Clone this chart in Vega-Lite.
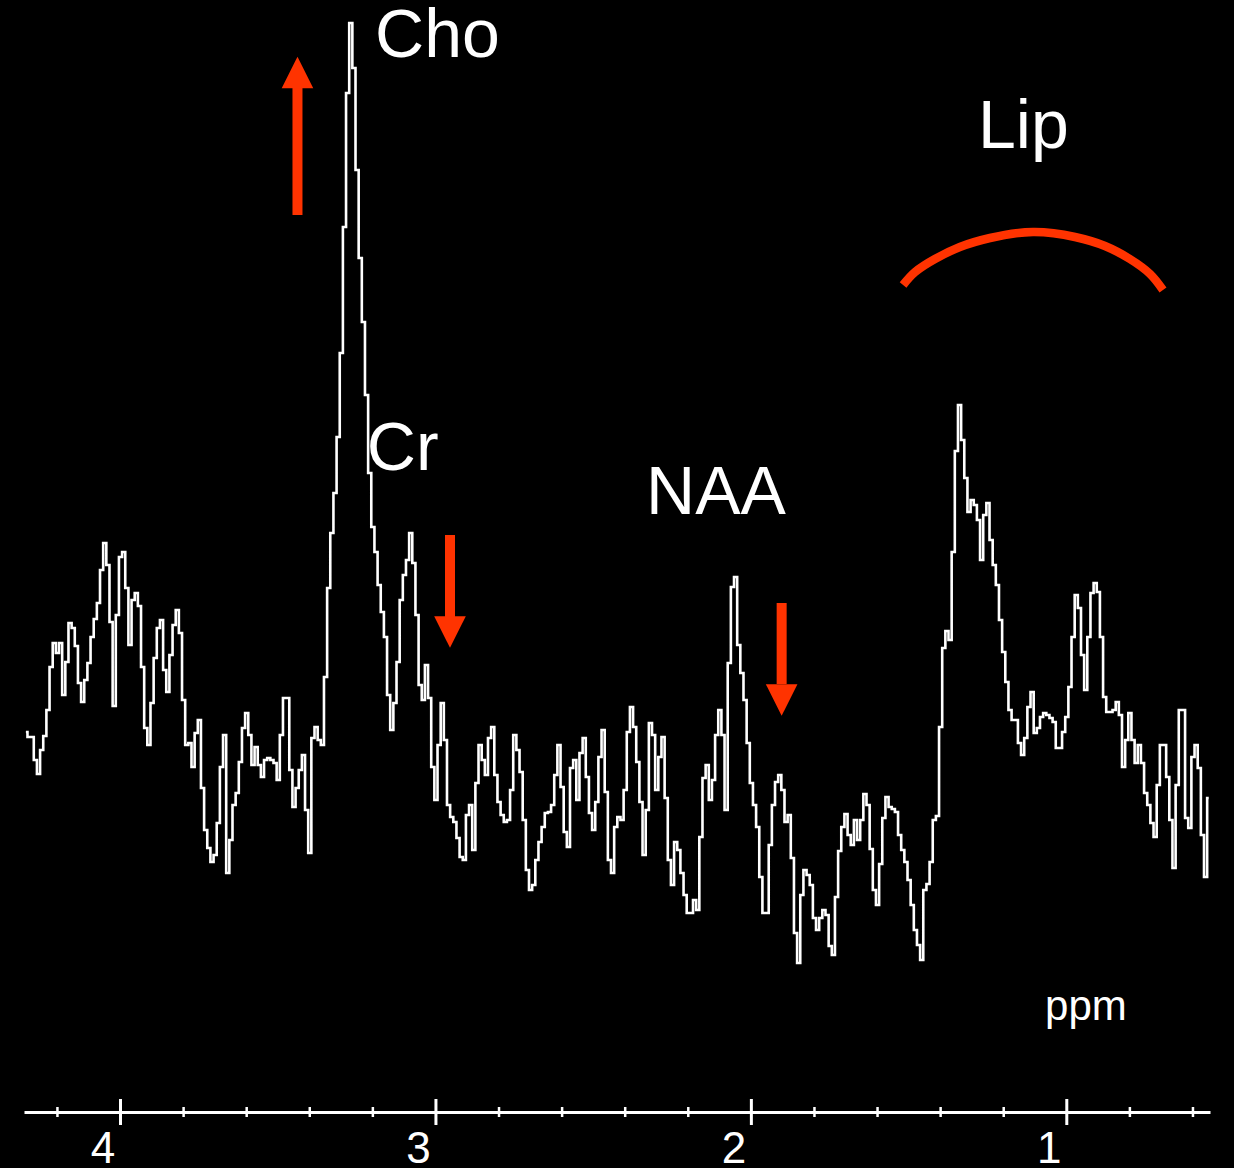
{
  "$schema": "https://vega.github.io/schema/vega-lite/v6.json",
  "width": 1186,
  "height": 1112,
  "autosize": {"type": "none"},
  "padding": {"left": 24, "right": 24, "top": 0, "bottom": 56},
  "background": "#000000",
  "config": {
    "view": {"stroke": null},
    "font": "Liberation Sans",
    "axisX": {"grid": false, "domain": true, "domainColor": "#ffffff", "domainWidth": 3,
              "ticks": false, "tickSize": 0, "format": "d",
              "labelColor": "#ffffff", "labelFont": "Liberation Sans", "labelFontSize": 44,
              "labelPadding": 15, "labelOffset": -18, "labelBaseline": "top",
              "labelFlush": false, "labelOverlap": false}
  },
  "datasets": {
    "spectrum": [{"ppm":4.3,"s":37.9},{"ppm":4.29,"s":37.4},{"ppm":4.28,"s":37.4},{"ppm":4.27,"s":35.1},{"ppm":4.26,"s":33.7},{"ppm":4.25,"s":36.1},{"ppm":4.24,"s":37.5},{"ppm":4.23,"s":40.1},{"ppm":4.22,"s":44.4},{"ppm":4.21,"s":46.8},{"ppm":4.2,"s":45.8},{"ppm":4.19,"s":46.8},{"ppm":4.18,"s":41.6},{"ppm":4.17,"s":44.9},{"ppm":4.16,"s":48.8},{"ppm":4.15,"s":48.3},{"ppm":4.14,"s":46.5},{"ppm":4.13,"s":42.8},{"ppm":4.12,"s":40.9},{"ppm":4.11,"s":43.1},{"ppm":4.1,"s":44.8},{"ppm":4.09,"s":47.4},{"ppm":4.08,"s":49.2},{"ppm":4.07,"s":50.8},{"ppm":4.06,"s":54.1},{"ppm":4.05,"s":56.8},{"ppm":4.04,"s":54.6},{"ppm":4.03,"s":48.9},{"ppm":4.02,"s":40.5},{"ppm":4.01,"s":49.6},{"ppm":4.0,"s":55.4},{"ppm":3.99,"s":55.9},{"ppm":3.98,"s":52.3},{"ppm":3.97,"s":46.6},{"ppm":3.96,"s":51.1},{"ppm":3.95,"s":51.8},{"ppm":3.94,"s":50.5},{"ppm":3.93,"s":44.4},{"ppm":3.92,"s":38.3},{"ppm":3.91,"s":36.6},{"ppm":3.9,"s":40.8},{"ppm":3.89,"s":45.3},{"ppm":3.88,"s":48.3},{"ppm":3.87,"s":49.1},{"ppm":3.86,"s":44.1},{"ppm":3.85,"s":41.9},{"ppm":3.84,"s":45.6},{"ppm":3.83,"s":48.6},{"ppm":3.82,"s":50.1},{"ppm":3.81,"s":47.8},{"ppm":3.8,"s":41.1},{"ppm":3.79,"s":36.6},{"ppm":3.78,"s":36.8},{"ppm":3.77,"s":34.4},{"ppm":3.76,"s":37.8},{"ppm":3.75,"s":39.1},{"ppm":3.74,"s":32.3},{"ppm":3.73,"s":28.1},{"ppm":3.72,"s":26.3},{"ppm":3.71,"s":24.9},{"ppm":3.7,"s":25.6},{"ppm":3.69,"s":28.8},{"ppm":3.68,"s":34.4},{"ppm":3.67,"s":37.6},{"ppm":3.66,"s":23.8},{"ppm":3.65,"s":27.1},{"ppm":3.64,"s":30.6},{"ppm":3.63,"s":31.8},{"ppm":3.62,"s":34.9},{"ppm":3.61,"s":38.3},{"ppm":3.6,"s":39.8},{"ppm":3.59,"s":37.6},{"ppm":3.58,"s":34.6},{"ppm":3.57,"s":36.4},{"ppm":3.56,"s":34.6},{"ppm":3.55,"s":33.4},{"ppm":3.54,"s":35.1},{"ppm":3.53,"s":35.3},{"ppm":3.52,"s":35.1},{"ppm":3.51,"s":34.8},{"ppm":3.5,"s":33.1},{"ppm":3.49,"s":37.6},{"ppm":3.48,"s":41.3},{"ppm":3.47,"s":41.3},{"ppm":3.46,"s":34.1},{"ppm":3.45,"s":30.4},{"ppm":3.44,"s":32.3},{"ppm":3.43,"s":34.1},{"ppm":3.42,"s":35.6},{"ppm":3.41,"s":30.1},{"ppm":3.4,"s":25.8},{"ppm":3.39,"s":37.3},{"ppm":3.38,"s":38.4},{"ppm":3.37,"s":37.1},{"ppm":3.36,"s":36.6},{"ppm":3.35,"s":43.4},{"ppm":3.34,"s":52.3},{"ppm":3.33,"s":57.8},{"ppm":3.32,"s":61.8},{"ppm":3.31,"s":67.4},{"ppm":3.3,"s":75.8},{"ppm":3.29,"s":88.4},{"ppm":3.28,"s":101.8},{"ppm":3.27,"s":108.8},{"ppm":3.26,"s":104.3},{"ppm":3.25,"s":94.1},{"ppm":3.24,"s":85.3},{"ppm":3.23,"s":78.9},{"ppm":3.22,"s":71.6},{"ppm":3.21,"s":63.8},{"ppm":3.2,"s":58.4},{"ppm":3.19,"s":55.9},{"ppm":3.18,"s":52.6},{"ppm":3.17,"s":49.9},{"ppm":3.16,"s":47.4},{"ppm":3.15,"s":41.6},{"ppm":3.14,"s":38.1},{"ppm":3.13,"s":40.8},{"ppm":3.12,"s":44.9},{"ppm":3.11,"s":51.1},{"ppm":3.1,"s":53.6},{"ppm":3.09,"s":55.1},{"ppm":3.08,"s":57.8},{"ppm":3.07,"s":54.8},{"ppm":3.06,"s":49.6},{"ppm":3.05,"s":42.6},{"ppm":3.04,"s":41.1},{"ppm":3.03,"s":44.6},{"ppm":3.02,"s":41.3},{"ppm":3.01,"s":34.4},{"ppm":3.0,"s":31.1},{"ppm":2.99,"s":36.6},{"ppm":2.98,"s":40.8},{"ppm":2.97,"s":37.1},{"ppm":2.96,"s":30.6},{"ppm":2.95,"s":29.4},{"ppm":2.94,"s":28.9},{"ppm":2.93,"s":27.3},{"ppm":2.92,"s":25.4},{"ppm":2.91,"s":25.1},{"ppm":2.9,"s":29.6},{"ppm":2.89,"s":30.6},{"ppm":2.88,"s":26.1},{"ppm":2.87,"s":32.8},{"ppm":2.86,"s":36.6},{"ppm":2.85,"s":35.1},{"ppm":2.84,"s":33.6},{"ppm":2.83,"s":37.3},{"ppm":2.82,"s":38.4},{"ppm":2.81,"s":33.6},{"ppm":2.8,"s":30.9},{"ppm":2.79,"s":29.6},{"ppm":2.78,"s":28.9},{"ppm":2.77,"s":29.1},{"ppm":2.76,"s":32.1},{"ppm":2.75,"s":37.6},{"ppm":2.74,"s":36.1},{"ppm":2.73,"s":33.9},{"ppm":2.72,"s":29.1},{"ppm":2.71,"s":24.1},{"ppm":2.7,"s":22.1},{"ppm":2.69,"s":22.6},{"ppm":2.68,"s":25.1},{"ppm":2.67,"s":26.9},{"ppm":2.66,"s":28.4},{"ppm":2.65,"s":29.8},{"ppm":2.64,"s":29.9},{"ppm":2.63,"s":30.6},{"ppm":2.62,"s":33.6},{"ppm":2.61,"s":36.6},{"ppm":2.6,"s":32.4},{"ppm":2.59,"s":27.9},{"ppm":2.58,"s":26.4},{"ppm":2.57,"s":34.3},{"ppm":2.56,"s":35.1},{"ppm":2.55,"s":31.1},{"ppm":2.54,"s":35.8},{"ppm":2.53,"s":37.3},{"ppm":2.52,"s":33.4},{"ppm":2.51,"s":29.8},{"ppm":2.5,"s":28.1},{"ppm":2.49,"s":30.9},{"ppm":2.48,"s":35.4},{"ppm":2.47,"s":38.1},{"ppm":2.46,"s":31.9},{"ppm":2.45,"s":25.1},{"ppm":2.44,"s":23.8},{"ppm":2.43,"s":28.4},{"ppm":2.42,"s":29.4},{"ppm":2.41,"s":29.1},{"ppm":2.4,"s":32.1},{"ppm":2.39,"s":37.9},{"ppm":2.38,"s":40.4},{"ppm":2.37,"s":38.4},{"ppm":2.36,"s":34.9},{"ppm":2.35,"s":30.9},{"ppm":2.34,"s":25.6},{"ppm":2.33,"s":30.1},{"ppm":2.32,"s":38.8},{"ppm":2.31,"s":37.6},{"ppm":2.3,"s":32.1},{"ppm":2.29,"s":35.4},{"ppm":2.28,"s":37.4},{"ppm":2.27,"s":31.3},{"ppm":2.26,"s":25.1},{"ppm":2.25,"s":22.6},{"ppm":2.24,"s":26.9},{"ppm":2.23,"s":26.1},{"ppm":2.22,"s":23.8},{"ppm":2.21,"s":21.6},{"ppm":2.2,"s":19.8},{"ppm":2.19,"s":19.8},{"ppm":2.18,"s":21.1},{"ppm":2.17,"s":20.1},{"ppm":2.16,"s":27.4},{"ppm":2.15,"s":33.3},{"ppm":2.14,"s":34.6},{"ppm":2.13,"s":31.1},{"ppm":2.12,"s":33.1},{"ppm":2.11,"s":37.6},{"ppm":2.1,"s":40.1},{"ppm":2.09,"s":37.6},{"ppm":2.08,"s":30.1},{"ppm":2.07,"s":44.8},{"ppm":2.06,"s":52.4},{"ppm":2.05,"s":53.4},{"ppm":2.04,"s":46.6},{"ppm":2.03,"s":43.8},{"ppm":2.02,"s":41.1},{"ppm":2.01,"s":36.8},{"ppm":2.0,"s":32.8},{"ppm":1.99,"s":30.6},{"ppm":1.98,"s":28.4},{"ppm":1.97,"s":23.4},{"ppm":1.96,"s":19.8},{"ppm":1.95,"s":19.8},{"ppm":1.94,"s":26.6},{"ppm":1.93,"s":30.6},{"ppm":1.92,"s":32.9},{"ppm":1.91,"s":33.6},{"ppm":1.9,"s":32.1},{"ppm":1.89,"s":28.9},{"ppm":1.88,"s":29.6},{"ppm":1.87,"s":25.3},{"ppm":1.86,"s":17.8},{"ppm":1.85,"s":14.8},{"ppm":1.84,"s":21.6},{"ppm":1.83,"s":24.1},{"ppm":1.82,"s":23.6},{"ppm":1.81,"s":22.6},{"ppm":1.8,"s":19.3},{"ppm":1.79,"s":18.1},{"ppm":1.78,"s":19.3},{"ppm":1.77,"s":20.1},{"ppm":1.76,"s":19.6},{"ppm":1.75,"s":16.5},{"ppm":1.74,"s":15.6},{"ppm":1.73,"s":21.4},{"ppm":1.72,"s":26.0},{"ppm":1.71,"s":28.4},{"ppm":1.7,"s":29.7},{"ppm":1.69,"s":27.6},{"ppm":1.68,"s":26.6},{"ppm":1.67,"s":29.1},{"ppm":1.66,"s":27.1},{"ppm":1.65,"s":29.1},{"ppm":1.64,"s":31.7},{"ppm":1.63,"s":30.6},{"ppm":1.62,"s":26.2},{"ppm":1.61,"s":22.1},{"ppm":1.6,"s":20.6},{"ppm":1.59,"s":24.7},{"ppm":1.58,"s":29.3},{"ppm":1.57,"s":31.4},{"ppm":1.56,"s":30.4},{"ppm":1.55,"s":30.2},{"ppm":1.54,"s":29.9},{"ppm":1.53,"s":27.6},{"ppm":1.52,"s":26.1},{"ppm":1.51,"s":24.9},{"ppm":1.5,"s":23.1},{"ppm":1.49,"s":20.6},{"ppm":1.48,"s":18.1},{"ppm":1.47,"s":16.6},{"ppm":1.46,"s":15.1},{"ppm":1.45,"s":22.1},{"ppm":1.44,"s":22.7},{"ppm":1.43,"s":24.9},{"ppm":1.42,"s":29.1},{"ppm":1.41,"s":29.5},{"ppm":1.4,"s":38.4},{"ppm":1.39,"s":46.3},{"ppm":1.38,"s":48.0},{"ppm":1.37,"s":47.1},{"ppm":1.36,"s":55.9},{"ppm":1.35,"s":66.0},{"ppm":1.34,"s":70.6},{"ppm":1.33,"s":67.1},{"ppm":1.32,"s":63.3},{"ppm":1.31,"s":59.9},{"ppm":1.3,"s":61.1},{"ppm":1.29,"s":60.6},{"ppm":1.28,"s":59.1},{"ppm":1.27,"s":55.1},{"ppm":1.26,"s":59.6},{"ppm":1.25,"s":60.8},{"ppm":1.24,"s":57.1},{"ppm":1.23,"s":54.6},{"ppm":1.22,"s":52.6},{"ppm":1.21,"s":49.1},{"ppm":1.2,"s":45.9},{"ppm":1.19,"s":42.9},{"ppm":1.18,"s":40.1},{"ppm":1.17,"s":39.1},{"ppm":1.16,"s":39.1},{"ppm":1.15,"s":36.8},{"ppm":1.14,"s":35.6},{"ppm":1.13,"s":37.3},{"ppm":1.12,"s":40.4},{"ppm":1.11,"s":41.9},{"ppm":1.1,"s":37.8},{"ppm":1.09,"s":38.3},{"ppm":1.08,"s":39.4},{"ppm":1.07,"s":39.8},{"ppm":1.06,"s":39.6},{"ppm":1.05,"s":39.3},{"ppm":1.04,"s":38.9},{"ppm":1.03,"s":36.3},{"ppm":1.02,"s":36.3},{"ppm":1.01,"s":37.9},{"ppm":1.0,"s":39.4},{"ppm":0.99,"s":42.4},{"ppm":0.98,"s":47.4},{"ppm":0.97,"s":51.6},{"ppm":0.96,"s":50.3},{"ppm":0.95,"s":45.6},{"ppm":0.94,"s":42.1},{"ppm":0.93,"s":47.4},{"ppm":0.92,"s":51.8},{"ppm":0.91,"s":52.8},{"ppm":0.9,"s":51.9},{"ppm":0.89,"s":47.4},{"ppm":0.88,"s":41.4},{"ppm":0.87,"s":39.9},{"ppm":0.86,"s":39.9},{"ppm":0.85,"s":40.1},{"ppm":0.84,"s":40.9},{"ppm":0.83,"s":39.6},{"ppm":0.82,"s":34.4},{"ppm":0.81,"s":37.1},{"ppm":0.8,"s":39.8},{"ppm":0.79,"s":37.1},{"ppm":0.78,"s":34.8},{"ppm":0.77,"s":36.6},{"ppm":0.76,"s":34.8},{"ppm":0.75,"s":31.8},{"ppm":0.74,"s":30.6},{"ppm":0.73,"s":28.8},{"ppm":0.72,"s":27.4},{"ppm":0.71,"s":32.6},{"ppm":0.7,"s":36.6},{"ppm":0.69,"s":36.6},{"ppm":0.68,"s":33.4},{"ppm":0.67,"s":29.1},{"ppm":0.66,"s":24.3},{"ppm":0.65,"s":32.6},{"ppm":0.64,"s":40.1},{"ppm":0.63,"s":40.1},{"ppm":0.62,"s":29.3},{"ppm":0.61,"s":28.3},{"ppm":0.6,"s":35.4},{"ppm":0.59,"s":36.6},{"ppm":0.58,"s":34.3},{"ppm":0.57,"s":27.6},{"ppm":0.56,"s":23.4},{"ppm":0.55,"s":31.3}],
    "majorTicks": [{"ppm":4},{"ppm":3},{"ppm":2},{"ppm":1}],
    "minorTicks": [{"ppm":4.2},{"ppm":3.8},{"ppm":3.6},{"ppm":3.4},{"ppm":3.2},{"ppm":2.8},{"ppm":2.6},{"ppm":2.4},{"ppm":2.2},{"ppm":1.8},{"ppm":1.6},{"ppm":1.4},{"ppm":1.2},{"ppm":0.8},{"ppm":0.6}],
    "peaks": [{"label":"Cho","ppm":3.193,"s":105.4},{"label":"Cr","ppm":3.219,"s":64.1},{"label":"NAA","ppm":2.334,"s":59.7},{"label":"Lip","ppm":1.2815,"s":96.3}],
    "unit": [{"label":"ppm","ppm":1.069,"s":9.1}],
    "arrows": [{"ppm":3.439,"from":89.6,"to":102.3,"head":103.85,"dir":"up"},{"ppm":2.9555,"from":57.6,"to":49.4,"head":47.9,"dir":"down"},{"ppm":1.904,"from":50.8,"to":42.7,"head":41.1,"dir":"down"}],
    "arc": [{"ppm":1.519,"s":82.6},{"ppm":1.481,"s":83.9},{"ppm":1.418,"s":85.2},{"ppm":1.339,"s":86.4},{"ppm":1.2435,"s":87.3},{"ppm":1.107,"s":87.9},{"ppm":0.974,"s":87.4},{"ppm":0.879,"s":86.5},{"ppm":0.8,"s":85.2},{"ppm":0.736,"s":83.7},{"ppm":0.695,"s":82.1}]
  },
  "layer": [
    {
      "data": {"name": "spectrum"},
      "mark": {"type": "line", "interpolate": "step", "color": "#ffffff", "strokeWidth": 2.6, "clip": false},
      "encoding": {
        "x": {"field": "ppm", "type": "quantitative",
              "scale": {"domain": [4.306, 0.546], "nice": false, "zero": false},
              "axis": {"values": [4, 3, 2, 1], "title": null}},
        "y": {"field": "s", "type": "quantitative",
              "scale": {"domain": [-0.1, 111.1], "nice": false, "zero": false}, "axis": null}
      }
    },
    {
      "data": {"name": "majorTicks"},
      "mark": {"type": "tick", "orient": "vertical", "color": "#ffffff", "filled": true, "opacity": 1, "thickness": 3, "size": 26},
      "encoding": {
        "x": {"field": "ppm", "type": "quantitative", "axis": {"values": [4, 3, 2, 1], "title": null}},
        "y": {"datum": -0.1, "type": "quantitative", "axis": null}
      }
    },
    {
      "data": {"name": "minorTicks"},
      "mark": {"type": "tick", "orient": "vertical", "color": "#ffffff", "filled": true, "opacity": 1, "thickness": 2.5, "size": 10},
      "encoding": {
        "x": {"field": "ppm", "type": "quantitative", "axis": {"values": [4, 3, 2, 1], "title": null}},
        "y": {"datum": -0.1, "type": "quantitative", "axis": null}
      }
    },
    {
      "data": {"name": "peaks"},
      "mark": {"type": "text", "align": "left", "baseline": "alphabetic", "color": "#ffffff", "font": "Liberation Sans", "fontSize": 68},
      "encoding": {
        "x": {"field": "ppm", "type": "quantitative", "axis": {"values": [4, 3, 2, 1], "title": null}},
        "y": {"field": "s", "type": "quantitative", "axis": null},
        "text": {"field": "label"}
      }
    },
    {
      "data": {"name": "unit"},
      "mark": {"type": "text", "align": "left", "baseline": "alphabetic", "color": "#ffffff", "font": "Liberation Sans", "fontSize": 42},
      "encoding": {
        "x": {"field": "ppm", "type": "quantitative", "axis": {"values": [4, 3, 2, 1], "title": null}},
        "y": {"field": "s", "type": "quantitative", "axis": null},
        "text": {"field": "label"}
      }
    },
    {
      "data": {"name": "arrows"},
      "mark": {"type": "rule", "color": "#ff3300", "strokeWidth": 10},
      "encoding": {
        "x": {"field": "ppm", "type": "quantitative", "axis": {"values": [4, 3, 2, 1], "title": null}},
        "y": {"field": "from", "type": "quantitative", "axis": null},
        "y2": {"field": "to"}
      }
    },
    {
      "data": {"name": "arrows"},
      "mark": {"type": "point", "filled": true, "color": "#ff3300", "opacity": 1, "size": 1000, "strokeWidth": 0},
      "encoding": {
        "x": {"field": "ppm", "type": "quantitative", "axis": {"values": [4, 3, 2, 1], "title": null}},
        "y": {"field": "head", "type": "quantitative", "axis": null},
        "shape": {"field": "dir", "type": "nominal", "legend": null,
                  "scale": {"domain": ["up", "down"], "range": ["M0,-1L1,1L-1,1Z", "M-1,-1L1,-1L0,1Z"]}}
      }
    },
    {
      "data": {"name": "arc"},
      "mark": {"type": "line", "interpolate": "natural", "color": "#ff3300", "strokeWidth": 8.5, "strokeCap": "butt"},
      "encoding": {
        "x": {"field": "ppm", "type": "quantitative", "axis": {"values": [4, 3, 2, 1], "title": null}},
        "y": {"field": "s", "type": "quantitative", "axis": null}
      }
    }
  ]
}
